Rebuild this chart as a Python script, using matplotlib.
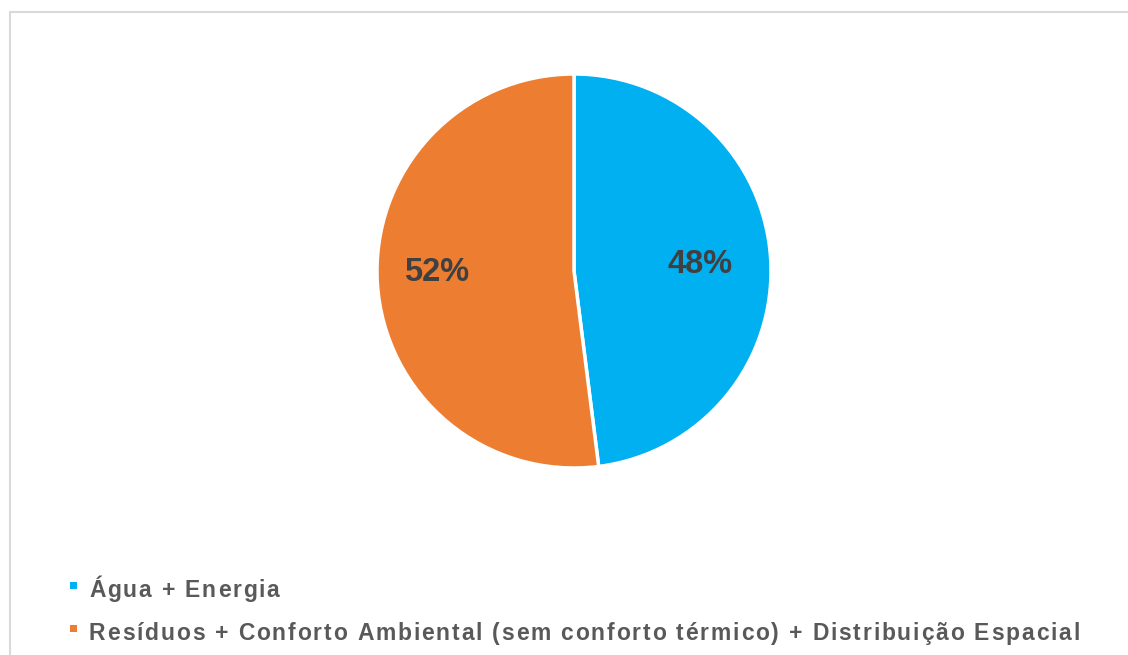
import matplotlib.pyplot as plt
import numpy as np
from matplotlib.patches import Rectangle
from matplotlib.font_manager import findfont, FontProperties
from matplotlib.ft2font import FT2Font

labels = ['Água + Energia',
          'Resíduos + Conforto Ambiental (sem conforto térmico) + Distribuição Espacial']
values = [48, 52]
colors = ['#00B0F0', '#ED7D31']

plt.rcParams['font.family'] = ['Liberation Sans', 'DejaVu Sans']

W, H = 1128, 655
DPI = 100
fig = plt.figure(figsize=(W / DPI, H / DPI), dpi=DPI)

# moldura cinzenta (sai pela direita e por baixo)
fig.patches.append(Rectangle((9.5 / W, -0.1), 1.2, (H - 12.5) / H + 0.1,
                             transform=fig.transFigure, fill=False,
                             edgecolor='#d9d9d9', lw=1.5))

# eixo quadrado para a tarte
cx, cy, r = 574, 271, 197
ax = fig.add_axes([(cx - r) / W, (H - cy - r) / H, 2 * r / W, 2 * r / H])
wedges, _ = ax.pie(values, colors=colors, startangle=90, counterclock=False,
                   radius=1, wedgeprops=dict(edgecolor='white', linewidth=2.5))
ax.set_xlim(-1, 1)
ax.set_ylim(-1, 1)
ax.axis('off')

# rótulos de percentagem (posição à maneira do Excel)
label_pos = [(0.64, -0.01), (-0.70, -0.05)]
for v, (lx, ly) in zip(values, label_pos):
    ax.text(lx, ly, f'{v}%', ha='center', va='baseline',
            fontsize=23.5, fontweight='bold', color='#404040')

# legenda com espaçamento entre letras, como no original
LEG_SIZE = 16.5
TRACK = 1.8  # px extra por carácter
font = FT2Font(findfont(FontProperties(family='Liberation Sans', weight='bold')))
font.set_size(LEG_SIZE, DPI)


def spaced_text(x0, baseline, s, **kw):
    x = x0
    for ch in s:
        fig.text(x / W, 1 - baseline / H, ch, ha='left', va='baseline',
                 fontsize=LEG_SIZE, fontweight='bold', **kw)
        adv = font.load_char(ord(ch)).linearHoriAdvance / 65536
        x += adv + TRACK


baselines = [597, 640]
for lab, c, b in zip(labels, colors, baselines):
    fig.patches.append(Rectangle((70 / W, 1 - (b - 8.5) / H), 7 / W, 7 / H,
                                 transform=fig.transFigure, facecolor=c,
                                 edgecolor='none'))
    spaced_text(89, b, lab, color='#595959')

fig.savefig('out.png', dpi=DPI)
